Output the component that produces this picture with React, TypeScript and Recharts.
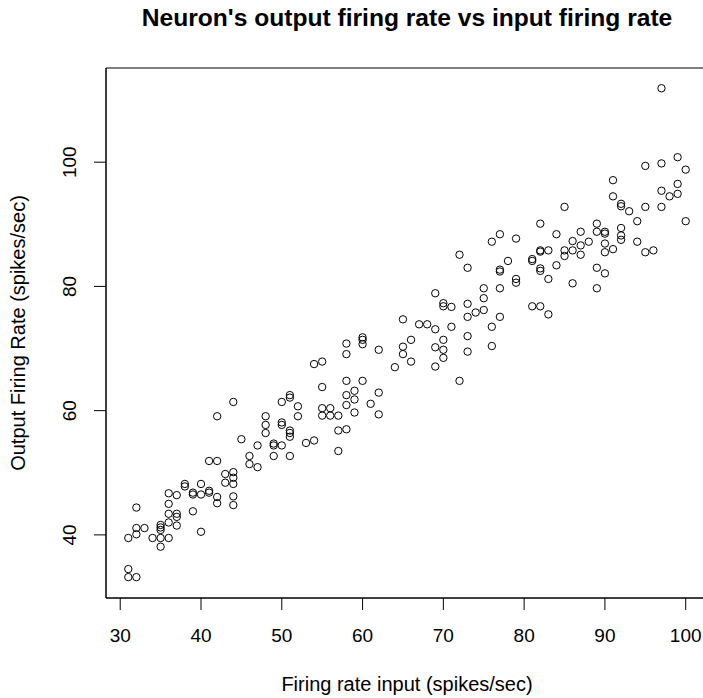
import React from "react";
import {
  ScatterChart,
  Scatter,
  XAxis,
  YAxis,
  Label,
  ReferenceArea,
} from "recharts";

// input firing rate (spikes/sec) for each recorded trial
const inputRate = [
  31, 31, 31,
  32, 32, 32, 32,
  33,
  34,
  35, 35, 35, 35, 35,
  36, 36, 36, 36, 36,
  37, 37, 37, 37,
  38, 38,
  39, 39, 39,
  40, 40, 40,
  41, 41, 41,
  42, 42, 42, 42,
  43, 43,
  44, 44, 44, 44, 44, 44,
  45,
  46, 46,
  47, 47,
  48, 48, 48,
  49, 49, 49,
  50, 50, 50, 50,
  51, 51, 51, 51, 51, 51,
  52, 52,
  53,
  54, 54,
  55, 55, 55, 55,
  56, 56,
  57, 57, 57,
  58, 58, 58, 58, 58, 58,
  59, 59, 59,
  60, 60, 60, 60,
  61,
  62, 62, 62,
  64,
  65, 65, 65,
  66, 66,
  67,
  68,
  69, 69, 69, 69,
  70, 70, 70, 70, 70,
  71, 71,
  72, 72,
  73, 73, 73, 73, 73,
  74,
  75, 75, 75,
  76, 76, 76,
  77, 77, 77, 77, 77,
  78,
  79, 79, 79,
  81, 81, 81,
  82, 82, 82, 82, 82, 82,
  83, 83, 83,
  84, 84,
  85, 85, 85,
  86, 86, 86,
  87, 87, 87,
  88,
  89, 89, 89, 89,
  90, 90, 90, 90, 90,
  91, 91, 91,
  92, 92, 92, 92, 92,
  93,
  94, 94,
  95, 95, 95,
  96,
  97, 97, 97, 97,
  98,
  99, 99, 99,
  100, 100,
];

// measured output firing rate (spikes/sec), same order as inputRate
const outputRate = [
  34.5, 33.2, 39.5,
  33.2, 40.1, 41.1, 44.4,
  41.1,
  39.5,
  39.5, 38.1, 41.6, 41.2, 40.8,
  39.5, 42.0, 43.4, 45.0, 46.7,
  46.4, 43.4, 42.9, 41.5,
  48.2, 47.8,
  43.8, 46.5, 46.8,
  40.5, 46.5, 48.2,
  47.1, 46.8, 51.9,
  46.1, 45.1, 59.1, 51.9,
  49.8, 48.4,
  50.1, 49.2, 48.2, 46.2, 44.8, 61.4,
  55.4,
  52.7, 51.4,
  54.4, 50.9,
  59.1, 57.7, 56.4,
  54.7, 54.4, 52.7,
  58.1, 57.7, 61.4, 54.4,
  62.5, 62.1, 56.8, 56.4, 55.8, 52.7,
  60.7, 59.1,
  54.8,
  55.2, 67.5,
  60.4, 59.2, 63.8, 67.9,
  60.4, 59.2,
  53.5, 56.8, 59.2,
  57.0, 64.8, 62.5, 60.9, 70.8, 69.1,
  63.2, 61.8, 59.7,
  64.8, 71.8, 71.4, 70.7,
  61.1,
  62.9, 59.4, 69.8,
  67.0,
  74.7, 70.3, 69.1,
  71.4, 67.9,
  73.9,
  73.9,
  73.1, 78.9, 70.2, 67.1,
  77.3, 76.8, 71.4, 69.8, 68.5,
  73.5, 76.7,
  64.8, 85.1,
  83.0, 77.2, 75.1, 72.0, 69.5,
  75.8,
  79.7, 78.1, 76.2,
  73.5, 70.4, 87.2,
  88.4, 82.7, 82.4, 79.7, 75.1,
  84.1,
  87.7, 81.2, 80.6,
  84.4, 84.1, 76.8,
  90.1, 85.8, 85.6, 82.9, 82.5, 76.8,
  85.8, 81.2, 75.5,
  88.4, 83.4,
  92.8, 85.8, 84.9,
  87.3, 85.8, 80.5,
  88.8, 86.6, 85.1,
  87.2,
  90.1, 88.8, 83.0, 79.7,
  88.8, 88.5, 86.9, 85.5, 82.1,
  97.1, 94.5, 86.0,
  93.3, 92.9, 89.4, 88.2, 87.5,
  92.1,
  90.5, 87.2,
  99.4, 92.8, 85.5,
  85.8,
  111.9, 99.8, 95.4, 92.8,
  94.5,
  100.8, 96.5, 94.9,
  98.8, 90.5,
];

const xTicks = [30, 40, 50, 60, 70, 80, 90, 100];
const yTicks = [40, 60, 80, 100];

// axis ranges padded by 4% like base R graphics
const xDomain = [28.24, 102.76];
const yDomain = [29.84, 115.16];

const FONT = "'Liberation Sans', Arial, sans-serif";

const points = inputRate.map((x, i) => ({ x, y: outputRate[i] }));

const OpenCircle = (props: any) => {
  const { cx, cy } = props;
  if (cx == null || cy == null) return null;
  return <circle cx={cx} cy={cy} r={3.7} fill="none" stroke="#000" strokeWidth={1} />;
};

const XTick = (props: any) => {
  const { x, y, payload } = props;
  return (
    <text x={x} y={y + 32} textAnchor="middle" fontSize={19} fontFamily={FONT} fill="#000">
      {payload.value}
    </text>
  );
};

const YTick = (props: any) => {
  const { x, y, payload } = props;
  const bx = x - 18;
  return (
    <text
      x={bx}
      y={y}
      transform={`rotate(-90, ${bx}, ${y})`}
      textAnchor="middle"
      fontSize={19}
      fontFamily={FONT}
      fill="#000"
    >
      {payload.value}
    </text>
  );
};

export default function App() {
  return (
    <div
      style={{
        position: "absolute",
        left: 0,
        top: 0,
        width: 703,
        height: 698,
        overflow: "hidden",
        background: "#fff",
      }}
    >
      <div
        style={{
          position: "absolute",
          left: 106,
          top: 6,
          width: 602,
          textAlign: "center",
          fontFamily: FONT,
          fontSize: 24.6,
          fontWeight: "bold",
          lineHeight: "24.6px",
          color: "#000",
          whiteSpace: "nowrap",
        }}
      >
        Neuron's output firing rate vs input firing rate
      </div>
      <ScatterChart width={720} height={698} margin={{ top: 68, right: 12, bottom: 0, left: 0 }}>
        <XAxis
          dataKey="x"
          type="number"
          domain={xDomain}
          ticks={xTicks}
          allowDataOverflow
          height={100}
          tickSize={12}
          tickMargin={0}
          tickLine={{ stroke: "#000" }}
          axisLine={{ stroke: "#000" }}
          tick={<XTick />}
        >
          <Label
            content={(p: any) => (
              <text
                x={p.viewBox.x + p.viewBox.width / 2}
                y={691}
                textAnchor="middle"
                fontSize={20}
                fontFamily={FONT}
                fill="#000"
              >
                Firing rate input (spikes/sec)
              </text>
            )}
          />
        </XAxis>
        <YAxis
          dataKey="y"
          type="number"
          domain={yDomain}
          ticks={yTicks}
          allowDataOverflow
          width={106}
          tickSize={12}
          tickMargin={0}
          tickLine={{ stroke: "#000" }}
          axisLine={{ stroke: "#000" }}
          tick={<YTick />}
        >
          <Label
            content={(p: any) => {
              const cy = p.viewBox.y + p.viewBox.height / 2;
              return (
                <text
                  x={25}
                  y={cy}
                  transform={`rotate(-90, 25, ${cy})`}
                  textAnchor="middle"
                  fontSize={20}
                  fontFamily={FONT}
                  fill="#000"
                >
                  Output Firing Rate (spikes/sec)
                </text>
              );
            }}
          />
        </YAxis>
        {/* plot frame */}
        <ReferenceArea
          x1={xDomain[0]}
          x2={xDomain[1]}
          y1={yDomain[0]}
          y2={yDomain[1]}
          fill="none"
          fillOpacity={0}
          stroke="#000"
          strokeWidth={1}
          ifOverflow="visible"
        />
        <Scatter data={points} shape={<OpenCircle />} isAnimationActive={false} />
      </ScatterChart>
    </div>
  );
}
